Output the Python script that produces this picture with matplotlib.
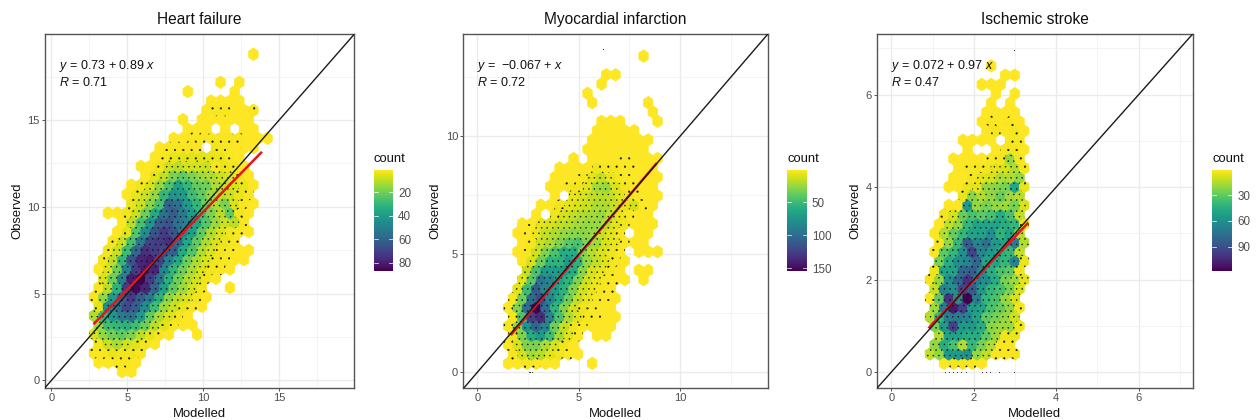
import numpy as np
import matplotlib
matplotlib.use("Agg")
import matplotlib.pyplot as plt
from matplotlib.collections import PolyCollection
from matplotlib.colors import Normalize
from matplotlib.cm import ScalarMappable

plt.rcParams['font.family'] = ['Liberation Sans', 'DejaVu Sans']
plt.rcParams['mathtext.fontset'] = 'custom'
plt.rcParams['mathtext.rm'] = 'Liberation Sans'
plt.rcParams['mathtext.it'] = 'Liberation Sans:italic'
plt.rcParams['hatch.linewidth'] = 0.3

titles = ["Heart failure", "Myocardial infarction", "Ischemic stroke"]
equations = ["$y$ = 0.73 + 0.89 $x$", "$y$ =  \u22120.067 + $x$", "$y$ = 0.072 + 0.97 $x$"]
correlations = ["$R$ = 0.71", "$R$ = 0.72", "$R$ = 0.47"]

# Hex rows: (row index from the bottom, first column, counts per column; 0 = empty bin)
hf_rows = [
 (0,0,[1,1]),(1,-3,[1,1,2,2,1]),(2,-3,[2,2,4,3,3,2]),(3,-3,[3,8,12,7,5,3,1]),
 (4,-3,[6,15,20,22,18,10,5,2,1,0,0,1]),(5,-3,[14,28,30,32,28,20,10,5,2,1,1]),
 (6,-3,[12,30,42,52,55,40,22,12,6,3,1]),(7,-3,[5,45,55,68,62,45,28,14,8,4,2,1]),
 (8,-3,[2,15,40,62,72,62,52,32,16,10,6,3,1]),(9,-3,[2,10,32,72,85,78,60,38,22,14,7,3,0,0,1]),
 (10,-2,[6,20,50,80,87,72,55,32,20,12,7,3,1]),(11,-3,[1,6,20,50,72,80,78,48,30,20,12,6,3,2,1]),
 (12,-2,[3,10,30,65,78,80,70,50,35,20,12,6,3,2,1,1]),(13,-2,[3,8,28,58,75,72,68,62,35,25,12,6,3,2,1,1]),
 (14,-1,[2,8,26,52,70,72,75,58,35,22,12,6,4,2]),(15,-1,[1,5,24,45,65,72,65,50,38,22,12,6,3,2,1]),
 (16,0,[1,10,26,42,62,65,55,48,36,24,14,8,10,2]),(17,-2,[1,1,3,8,20,35,55,62,52,40,28,18,10,22,3,1]),
 (18,1,[4,8,16,26,60,55,40,30,20,12,18,6,2,1]),(19,0,[1,4,8,15,30,42,40,28,22,14,10,8,4,2]),
 (20,1,[1,3,6,15,25,38,30,22,20,12,9,6,4,1]),(21,2,[1,5,9,18,22,18,14,12,8,6,3,1]),
 (22,2,[1,1,3,8,10,7,7,8,2,4,3,1]),(23,3,[1,2,4,5,5,5,4,4,2,1]),
 (24,4,[1,2,2,2,2,0,3,2,1,1,1]),(25,5,[1,1,2,2,2,2,2,2,1,1,1]),
 (26,7,[1,1,1,0,1,0,1,1]),(27,6,[1,0,1,1,1,1,1,1]),
 (28,9,[1,2,2,1,1,2]),(29,9,[1,1,1,1]),(30,7,[1,0,0,0,0,1]),
 (31,10,[1,0,1]),(34,14,[1]),
]
mi_rows = [
 (0,-9,[1,1,3,2,1,1,0,0,0,1]),(1,-9,[3,12,22,18,8,4,2,1]),(2,-9,[2,10,30,32,20,10,4,1]),
 (3,-9,[5,30,60,70,50,22,8,2,0,1,1]),(4,-9,[3,25,75,105,85,35,15,5,2,1,1,1]),
 (5,-9,[4,45,125,135,85,45,20,8,3,2,1,1]),(6,-9,[2,30,100,154,100,55,30,12,5,2,1,1]),
 (7,-9,[3,35,100,120,85,60,35,15,6,3,2,1]),(8,-8,[8,50,110,85,70,55,30,12,6,3,2]),
 (9,-8,[8,40,95,85,65,55,30,12,6,3,2,1,0,1]),(10,-7,[15,45,70,70,70,60,28,10,6,3,1,0,1,1]),
 (11,-8,[1,10,35,55,55,70,55,25,15,8,3,1]),(12,-8,[1,3,12,30,45,60,60,30,18,10,5,2,0,1,1,1]),
 (13,-8,[1,3,14,20,30,40,45,30,22,10,6,2,1,1]),(14,-8,[1,2,6,15,20,25,28,28,25,14,8,3,0,1,1]),
 (15,-8,[1,2,8,10,15,18,22,25,25,18,8,4,1,1,1]),(16,-6,[1,0,5,10,15,20,22,25,15,6,2,1,1]),
 (17,-6,[1,1,4,7,10,14,20,20,14,6,12,2,1]),(18,-4,[1,0,6,10,15,18,15,8,4,2,1,1]),
 (19,-5,[1,1,3,5,8,22,25,10,4,2,1,1]),(20,-4,[1,1,1,3,8,15,6,3,2,1,1,1]),
 (21,-4,[1,1,1,1,5,3,3,2,2,1,1]),(22,-2,[1,0,1,1,1,2,2,1,1,1]),(23,-1,[1,1,1,1,1,1,1]),
 (24,0,[1,1,1,1,1,1,1]),(25,0,[1,1,1,1,1]),(26,1,[1,1,1,0,0,0,1]),(27,6,[1]),
 (28,0,[1,0,0,0,0,0,1]),(29,-1,[1]),(30,1,[1]),(31,1,[1,1]),(33,5,[1]),
]
is_rows = [
 (0,0,[1,3,3,2,1]),(1,-2,[12,20,55,55,60,20,12,2,2,3]),(2,-1,[20,45,35,15,40,25,15,2,2]),
 (3,-1,[15,50,50,45,45,30,18,4,5]),(4,-1,[25,55,95,55,55,45,22,18,18,4]),
 (5,-2,[14,40,70,70,65,50,30,25,20,10]),(6,-1,[18,70,110,95,55,50,35,28,20,3]),
 (7,-2,[2,30,100,60,118,70,40,35,20,8]),(8,-1,[12,65,60,95,85,55,40,35,25,8]),
 (9,-2,[3,20,60,80,100,70,60,45,25,18,6]),(10,-1,[4,50,50,80,85,65,45,35,30,4]),
 (11,-1,[25,45,60,65,80,50,50,40,65,5]),(12,-1,[2,30,40,60,95,65,55,45,40,12]),
 (13,-1,[3,20,40,85,65,75,55,50,70,15]),(14,-1,[1,15,28,40,50,50,60,42,50,15]),
 (15,-1,[1,12,20,40,50,50,50,45,40,5]),(16,0,[3,8,28,35,30,35,45,35,12]),
 (17,0,[1,1,55,20,25,20,18,25,8]),(18,2,[5,22,15,20,28,18,14]),
 (19,0,[1,1,5,6,20,22,25,48,5]),(20,1,[1,1,3,6,8,16,15,20]),(21,1,[1,2,3,3,6,8,15,3]),
 (22,1,[1,1,1,1,2,3,20,3]),(23,2,[1,0,0,1,2,3,1]),(24,2,[1,1,1,1,0,2,2]),
 (25,4,[1,3,1,3,1]),(26,4,[1,2,1,2,1]),(27,4,[1,1,1,1]),(28,5,[1,0,1]),
 (29,5,[1,0,1]),(30,4,[1,1,1]),(31,6,[1,1]),(32,5,[1]),
]
rows_all = [hf_rows, mi_rows, is_rows]

# Bin geometry: origin x, origin y, column width, row spacing
bin_x0 = [4.654, 5.671, 1.277]
bin_y0 = [0.50, 0.38, 0.188]
bin_w = [0.618, 0.4605, 0.2288]
bin_s = [0.538, 0.3946, 0.2010]

fit_x = [[2.83, 13.81], [1.69, 8.82], [0.92, 3.30]]
fit_y = [[3.29, 13.12], [1.62, 8.83], [0.965, 3.21]]

# Stray dots outside the hexes
stray_x = [[], [6.18, 2.55, 2.62, 2.69], [2.97, 1.3, 1.4, 1.5, 1.6, 1.7, 1.8, 2.2, 2.3, 2.4, 2.6, 2.97]]
stray_y = [[], [13.7, 0.0, 0.0, 0.0], [6.97, 0, 0, 0, 0, 0, 0, 0, 0, 0, 0, 0]]

xlims = [(-0.44, 19.93), (-0.69, 14.33), (-0.35, 7.31)]
ylims = [(-0.42, 19.96), (-0.65, 14.34), (-0.34, 7.31)]
major = [[0, 5, 10, 15], [0, 5, 10], [0, 2, 4, 6]]
minor = [[2.5, 7.5, 12.5, 17.5], [2.5, 7.5, 12.5], [1, 3, 5, 7]]
count_lim = [(1, 87), (1, 154), (1, 118)]
count_ticks = [[20, 40, 60, 80], [50, 100, 150], [30, 60, 90]]

axes_px = [(44.7, 354.0), (463.3, 767.7), (877.0, 1192.7)]
cbar_px = [(373.7, 393.3), (787.0, 807.0), (1212.3, 1232.3)]
W, H = 1260, 420
top_px, bottom_px = 34.0, 387.7
cb_top, cb_bot = 170.3, 270.7

fig = plt.figure(figsize=(W / 100, H / 100), dpi=100)
GREY = '#4D4D4D'
unit = np.array([(0, 1), (0.5, 0.5), (0.5, -0.5), (0, -1), (-0.5, -0.5), (-0.5, 0.5)])

for i in range(3):
    l, r = axes_px[i]
    ax = fig.add_axes([l / W, 1 - bottom_px / H, (r - l) / W, (bottom_px - top_px) / H])
    ax.set_xlim(*xlims[i]); ax.set_ylim(*ylims[i])
    ax.set_xticks(major[i]); ax.set_yticks(major[i])
    ax.set_xticks(minor[i], minor=True); ax.set_yticks(minor[i], minor=True)
    ax.grid(which='major', color='#EBEBEB', lw=1.0, zorder=0)
    ax.grid(which='minor', color='#F2F2F2', lw=0.6, zorder=0)
    ax.set_axisbelow(True)
    ax.tick_params(which='minor', length=0)
    ax.tick_params(which='major', length=2.2, width=0.7, color='#555555',
                   labelsize=8, labelcolor=GREY, pad=1.5)
    for s in ax.spines.values():
        s.set_color('#555555'); s.set_linewidth(1.0)

    polys, vals = [], []
    hs = bin_s[i] * 4 / 3 / 2
    for k, start, counts in rows_all[i]:
        for j, c in enumerate(counts):
            if c > 0:
                cx = bin_x0[i] + bin_w[i] * (start + j + 0.5 * (k % 2))
                cy = bin_y0[i] + bin_s[i] * k
                polys.append(unit * [bin_w[i], hs] + [cx, cy])
                vals.append(c)
    vals = np.array(vals)
    norm = Normalize(*count_lim[i])
    pc = PolyCollection(polys, array=vals, cmap='viridis_r', norm=norm,
                        edgecolors='face', linewidths=0.6, zorder=2)
    ax.add_collection(pc)
    # the fine dark speckle on the hexes, as a hatch texture
    ax.add_collection(PolyCollection([p for p, v in zip(polys, vals) if 2 <= v < 6],
                                     facecolors='none', edgecolors='#111111',
                                     linewidths=0, hatch='..', zorder=2.5))
    ax.add_collection(PolyCollection([p for p, v in zip(polys, vals) if v >= 6],
                                     facecolors='none', edgecolors='#111111',
                                     linewidths=0, hatch='...', zorder=2.5))

    if stray_x[i]:
        ax.plot(stray_x[i], stray_y[i], ls='none', marker='s', ms=0.7, mew=0,
                color='#333333', zorder=2.6)
    ax.plot(fit_x[i], fit_y[i], color='#E8141C', lw=1.8, zorder=3)
    ax.plot([-100, 100], [-100, 100], color='#1a1a1a', lw=1.0, zorder=4)

    ax.set_title(titles[i], fontsize=11.2, color='#111111', pad=7)
    ax.set_xlabel("Modelled", fontsize=9.4, color='#111111', labelpad=4)
    ax.set_ylabel("Observed", fontsize=9.4, color='#111111', labelpad=3)

    ax.text(14 / (r - l), 1 - 31.5 / (bottom_px - top_px), equations[i], transform=ax.transAxes,
            fontsize=9, va='center', ha='left', color='#111111', zorder=5)
    ax.text(14 / (r - l), 1 - 49 / (bottom_px - top_px), correlations[i], transform=ax.transAxes,
            fontsize=9, va='center', ha='left', color='#111111', zorder=5)

    cl, cr = cbar_px[i]
    cax = fig.add_axes([cl / W, 1 - cb_bot / H, (cr - cl) / W, (cb_bot - cb_top) / H])
    cb = fig.colorbar(ScalarMappable(norm=norm, cmap='viridis_r'), cax=cax)
    cax.invert_yaxis()
    cb.outline.set_visible(False)
    cb.set_ticks(count_ticks[i])
    cax.tick_params(length=0, labelsize=8.4, labelcolor=GREY, pad=3.5)
    for t in count_ticks[i]:
        cax.plot([0, 0.2], [t, t], color='white', lw=0.5, transform=cax.get_yaxis_transform())
        cax.plot([0.8, 1], [t, t], color='white', lw=0.5, transform=cax.get_yaxis_transform())
    fig.text(cl / W, 1 - 158.5 / H, "count", fontsize=9.4, color='#111111', va='center', ha='left')

fig.savefig("out.png", dpi=100)
